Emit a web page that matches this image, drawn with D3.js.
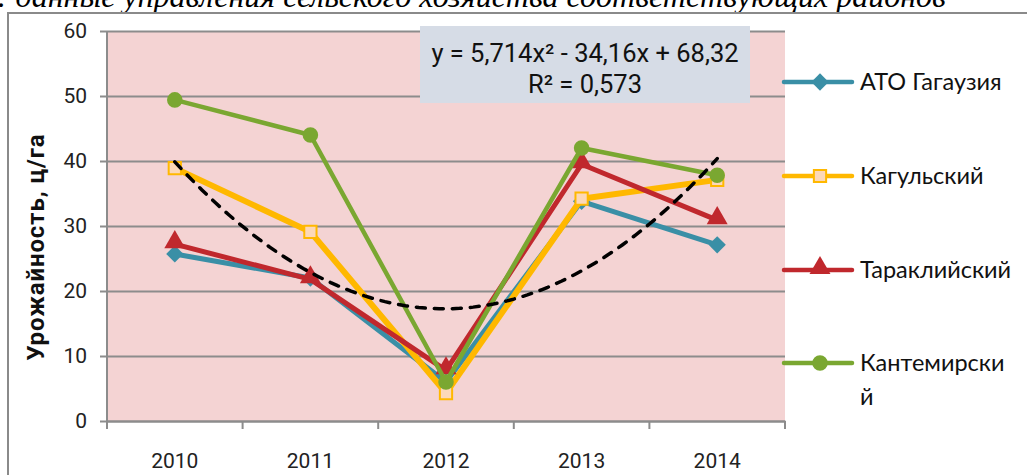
<!DOCTYPE html>
<html>
<head>
<meta charset="utf-8">
<script src="https://cdn.jsdelivr.net/npm/d3@7"></script>
<style>
	html, body { margin: 0; padding: 0; background: #fff; overflow: hidden; }
	svg { display: block; }
</style>
</head>
<body>
<div id="chart"></div>
<script>
const years = ['2010', '2011', '2012', '2013', '2014'];
const yTicks = [0, 10, 20, 30, 40, 50, 60];

const gagauzia = [25.7, 22, 6, 33.8, 27.1];
const cahul = [38.9, 29.1, 4.3, 34.2, 37.1];
const taraclia = [27.2, 21.8, 7.8, 39.5, 30.9];
const cantemir = [49.4, 44, 6, 42, 37.8];

// polynomial trendline as printed on the chart: a*x^2 + b*x + c
const trendCoef = [5.714, -34.16, 68.32];
const trendLabel = ['y = 5,714x² - 34,16x + 68,32', 'R² = 0,573'];

const series = [
	{ name: 'АТО Гагаузия', values: gagauzia, color: '#3a8fa6', width: 5, marker: 'diamond' },
	{ name: 'Кагульский', values: cahul, color: '#ffb800', width: 6, marker: 'square' },
	{ name: 'Тараклийский', values: taraclia, color: '#c0282d', width: 5, marker: 'triangle' },
	{ name: 'Кантемирский', values: cantemir, color: '#7aa731', width: 4.5, marker: 'circle' }
];

const W = 1027, H = 475;
const M = { left: 107, right: 785, top: 31, bottom: 421 };

const svg = d3.select('#chart').append('svg')
	.attr('width', W)
	.attr('height', H);

// source caption, cut by the top of the frame as in the page scan
svg.append('text')
	.text('Источник: данные управления сельского хозяйства соответствующих районов')
	.attr('x', 946)
	.attr('y', 7)
	.attr('text-anchor', 'end')
	.style('font-family', '"Liberation Serif", serif')
	.style('font-style', 'italic')
	.style('font-size', '32px');

// outer chart frame
svg.append('rect')
	.attr('x', 8).attr('y', 13)
	.attr('width', 1100).attr('height', 600)
	.attr('fill', 'none')
	.attr('stroke', '#8a8a8a')
	.attr('stroke-width', 2);

const x = d3.scaleBand().domain(years).range([M.left, M.right]);
const y = d3.scaleLinear().domain([0, 60]).range([M.bottom, M.top]);
const cx = d => x(d) + x.bandwidth() / 2;

svg.append('rect')
	.attr('x', M.left).attr('y', M.top)
	.attr('width', M.right - M.left).attr('height', M.bottom - M.top)
	.attr('fill', '#f4d3d3');

// horizontal grid + y axis
const axisY = d3.axisLeft(y).tickValues(yTicks).tickSize(-(M.right - M.left)).tickSizeOuter(0).tickPadding(20);
const gy = svg.append('g')
	.attr('transform', `translate(${M.left},0)`)
	.call(axisY);
gy.select('.domain').remove();
gy.selectAll('.tick line').attr('stroke', '#8c8c8c').attr('stroke-width', 2).attr('x1', -7);
gy.selectAll('.tick text')
	.style('font-family', 'Roboto, sans-serif')
	.style('font-size', '21px')
	.attr('fill', '#222');
gy.append('line')
	.attr('x1', 0).attr('x2', 0)
	.attr('y1', M.top).attr('y2', M.bottom)
	.attr('stroke', '#8c8c8c').attr('stroke-width', 2);

// x axis
const axisX = d3.axisBottom(x).tickSize(0).tickPadding(32);
const gx = svg.append('g')
	.attr('transform', `translate(0,${M.bottom})`)
	.call(axisX);
gx.select('.domain').attr('stroke', '#8c8c8c').attr('stroke-width', 2);
gx.selectAll('.tick text')
	.style('font-family', 'Roboto, sans-serif')
	.style('font-size', '21px')
	.attr('fill', '#222');
gx.selectAll('.sep')
	.data(years.concat(['end']))
	.enter().append('line')
	.attr('x1', (d, i) => M.left + i * x.bandwidth())
	.attr('x2', (d, i) => M.left + i * x.bandwidth())
	.attr('y1', 0).attr('y2', 8)
	.attr('stroke', '#8c8c8c').attr('stroke-width', 2);

svg.append('text')
	.text('Урожайность, ц/га')
	.attr('transform', `translate(44,${(M.top + M.bottom) / 2 + 21}) rotate(-90)`)
	.attr('text-anchor', 'middle')
	.style('font-family', 'Roboto, sans-serif')
	.style('font-weight', 'bold')
	.style('font-size', '24px')
	.style('letter-spacing', '0.9px')
	.attr('fill', '#111');

const symbols = {
	diamond: d3.symbol().type(d3.symbolDiamond2).size(190),
	square: d3.symbol().type(d3.symbolSquare).size(150),
	triangle: d3.symbol().type(d3.symbolTriangle).size(190),
	circle: d3.symbol().type(d3.symbolCircle).size(190)
};

const drawMarker = function(g, s, px, py) {
	const m = g.append('path')
		.attr('d', symbols[s.marker]())
		.attr('transform', `translate(${px},${py})` + (s.marker === 'triangle' ? ' translate(0,-2)' : ''));
	if (s.marker === 'square') {
		m.attr('fill', '#fcd8b8').attr('stroke', s.color).attr('stroke-width', 2);
	} else {
		m.attr('fill', s.color);
	}
};

const line = d3.line().x((d, i) => cx(years[i])).y(d => y(d));

series.forEach(s => {
	const g = svg.append('g');
	g.append('path')
		.attr('d', line(s.values))
		.attr('fill', 'none')
		.attr('stroke', s.color)
		.attr('stroke-width', s.width)
		.attr('stroke-linejoin', 'round');
	s.values.forEach((v, i) => drawMarker(g, s, cx(years[i]), y(v)));
});

// trendline (x = 1..5 along the categories)
const trendX = d3.scaleLinear().domain([1, 5]).range([cx(years[0]), cx(years[4])]);
const trendPts = d3.range(1, 5.001, 0.05).map(t => [trendX(t), y(trendCoef[0] * t * t + trendCoef[1] * t + trendCoef[2])]);
svg.append('path')
	.attr('d', d3.line()(trendPts))
	.attr('fill', 'none')
	.attr('stroke', '#000')
	.attr('stroke-width', 3.5)
	.attr('stroke-linecap', 'round')
	.attr('stroke-dasharray', '9,9');

// equation label
svg.append('rect')
	.attr('x', 420).attr('y', 26)
	.attr('width', 330).attr('height', 77)
	.attr('fill', '#d6dce6');
trendLabel.forEach((t, i) => {
	svg.append('text')
		.text(t)
		.attr('x', 585)
		.attr('y', 62 + i * 31)
		.attr('text-anchor', 'middle')
		.style('font-family', 'Roboto, sans-serif')
		.style('font-size', '25.5px')
		.attr('fill', '#111');
});

// legend
const legendY = [82, 176, 270, 363];
series.forEach((s, i) => {
	const g = svg.append('g').attr('transform', `translate(0,${legendY[i]})`);
	g.append('line')
		.attr('x1', 784).attr('x2', 852)
		.attr('y1', 0).attr('y2', 0)
		.attr('stroke', s.color)
		.attr('stroke-width', 4.5)
		.attr('stroke-linecap', 'round');
	drawMarker(g, s, 820, 0);
	const label = i === 3 ? ['Кантемирски', 'й'] : [s.name];
	label.forEach((t, j) => {
		g.append('text')
			.text(t)
			.attr('x', 860)
			.attr('y', 8 + j * 34)
			.style('font-family', 'Lato, sans-serif')
			.style('font-size', '23.5px')
			.attr('fill', '#111');
	});
});
</script>
</body>
</html>
